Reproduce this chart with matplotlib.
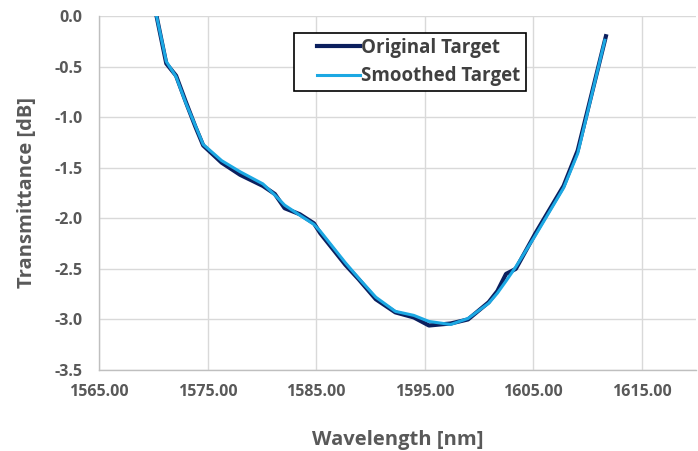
import numpy as np
import matplotlib.pyplot as plt
from matplotlib.patches import Rectangle

plt.rcParams['font.family'] = ['Open Sans', 'DejaVu Sans']

# Original target (wavelength nm, transmittance dB)
wl_orig = [1570.3, 1571.2, 1572.1, 1573.0, 1573.9, 1574.6, 1576.3, 1578.0, 1580.1,
           1581.2, 1582.1, 1583.5, 1584.8, 1585.4, 1587.7, 1588.9, 1590.5, 1592.3,
           1594.0, 1595.4, 1597.4, 1599.0, 1600.9, 1601.7, 1602.5, 1603.4, 1605.2,
           1607.8, 1609.1, 1611.7]
tr_orig = [0.0, -0.47, -0.59, -0.85, -1.10, -1.28, -1.45, -1.57, -1.68,
           -1.76, -1.90, -1.96, -2.05, -2.15, -2.46, -2.60, -2.80, -2.93,
           -2.98, -3.06, -3.04, -3.00, -2.83, -2.72, -2.55, -2.50, -2.15,
           -1.68, -1.33, -0.20]

# Smoothed target
wl_smooth = [1570.3, 1571.2, 1572.1, 1573.0, 1573.9, 1574.6, 1576.3, 1578.0, 1580.1,
             1581.2, 1582.1, 1583.5, 1584.8, 1585.4, 1587.7, 1588.9, 1590.5, 1592.3,
             1594.0, 1595.4, 1597.4, 1599.0, 1600.9, 1601.7, 1602.5, 1603.4, 1605.2,
             1607.8, 1609.1, 1611.6]
tr_smooth = [0.0, -0.45, -0.60, -0.86, -1.09, -1.27, -1.43, -1.54, -1.66,
             -1.77, -1.87, -1.97, -2.06, -2.13, -2.44, -2.59, -2.78, -2.92,
             -2.96, -3.02, -3.05, -2.99, -2.84, -2.74, -2.62, -2.48, -2.17,
             -1.70, -1.36, -0.24]

fig = plt.figure(figsize=(6.98, 4.51), dpi=100)
ax = fig.add_axes([99/698, 1 - 370/451, 597/698, 354/451])

ax.plot(wl_orig, tr_orig, color='#0b1f5e', lw=3.0, label='Original Target', zorder=3)
ax.plot(wl_smooth, tr_smooth, color='#1ca8e3', lw=2.2, label='Smoothed Target', zorder=4)

ax.set_xlim(1565, 1620)
ax.set_ylim(-3.5, 0.0)
ax.set_xticks(np.arange(1565, 1620, 10))
ax.set_xticklabels(['%.2f' % v for v in np.arange(1565, 1620, 10)])
ax.set_yticks(np.arange(-3.5, 0.01, 0.5))
ax.set_yticklabels(['%.1f' % v for v in np.arange(-3.5, 0.01, 0.5)])

ax.grid(True, color='#d9d9d9', lw=1.0)
ax.set_axisbelow(True)
for s in ['top', 'right']:
    ax.spines[s].set_visible(False)
for s in ['left', 'bottom']:
    ax.spines[s].set_color('#bfbfbf')
    ax.spines[s].set_linewidth(1.0)
ax.tick_params(length=0, colors='#595959', labelsize=11.5)
ax.tick_params(axis='y', pad=12)
ax.tick_params(axis='x', pad=10)
for lbl in ax.get_xticklabels() + ax.get_yticklabels():
    lbl.set_fontweight('bold')

ax.set_xlabel('Wavelength [nm]', fontsize=14.5, fontweight='bold', color='#595959', labelpad=22)
ax.set_ylabel('Transmittance [dB]', fontsize=14.5, fontweight='bold', color='#595959', labelpad=12)

# legend frame drawn separately so the padding matches the original
frame = Rectangle(((294 - 99)/597, 1 - (91 - 16)/354), 232/597, 58/354,
                  transform=ax.transAxes, facecolor='white', edgecolor='black',
                  lw=1.2, zorder=5)
ax.add_patch(frame)
leg = ax.legend(loc='upper left', bbox_to_anchor=((312 - 99)/597, 1 - (33 - 16)/354),
                borderaxespad=0, frameon=False, fontsize=13.5, handlelength=2.3,
                handletextpad=0.05, borderpad=0.25, labelspacing=0.45)
leg.set_zorder(6)
for t in leg.get_texts():
    t.set_fontweight('bold')
    t.set_color('#404040')

fig.savefig('out.png', dpi=100)
